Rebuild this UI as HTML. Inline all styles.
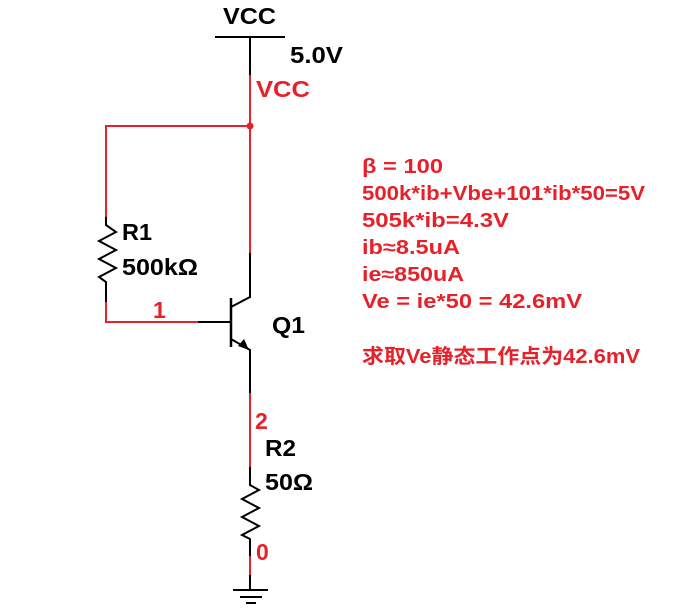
<!DOCTYPE html>
<html><head><meta charset="utf-8"><style>
html,body{margin:0;padding:0;background:#fff;}
svg{display:block}
text{font-family:"Liberation Sans","Noto Sans CJK SC",sans-serif;font-weight:bold;}
.r{fill:#e8202a;font-family:"Liberation Sans","Noto Sans CJK SC",sans-serif;font-size:20px;}
.b{font-size:23px;}
</style></head><body>
<svg width="698" height="610" viewBox="0 0 698 610" xmlns="http://www.w3.org/2000/svg">
<g fill="none" stroke-width="2" stroke-linejoin="miter">
<line x1="215" y1="37" x2="285" y2="37" stroke="#000"/>
<line x1="250" y1="37" x2="250" y2="75" stroke="#000"/>
<line x1="250" y1="75" x2="250" y2="253" stroke="#e8202a"/>
<line x1="250" y1="253" x2="250" y2="298" stroke="#000"/>
<polyline points="106,217 106,126 250,126" stroke="#e8202a"/>
<polyline points="106,217 106,225 116,232 99,241 116,250 99,259 116,268 99,277 106,282 106,302" stroke="#000"/>
<polyline points="106,302 106,322 198,322" stroke="#e8202a"/>
<line x1="198" y1="322" x2="231" y2="322" stroke="#000"/>
<line x1="231" y1="298" x2="231" y2="347" stroke="#000" stroke-width="2.5"/>
<line x1="231" y1="307" x2="250" y2="297" stroke="#000"/>
<line x1="231" y1="339" x2="250" y2="350" stroke="#000"/>
<line x1="250" y1="349" x2="250" y2="393" stroke="#000"/>
<line x1="250" y1="393" x2="250" y2="467" stroke="#e8202a"/>
<polyline points="250,467 250,485 259,490 242,499 259,508 242,517 259,526 242,535 250,539 250,556" stroke="#000"/>
<line x1="250" y1="556" x2="250" y2="575" stroke="#e8202a"/>
<line x1="250" y1="575" x2="250" y2="590" stroke="#000"/>
<line x1="233" y1="590" x2="268" y2="590" stroke="#000"/>
<line x1="240" y1="597" x2="262" y2="597" stroke="#000"/>
<line x1="246" y1="603" x2="256" y2="603" stroke="#000"/>
</g>
<polygon points="249,350 238,346 244,339" fill="#000"/>
<circle cx="250" cy="126" r="3.5" fill="#e8202a"/>
<text class="b" x="223" y="24" fill="#000" textLength="53" lengthAdjust="spacingAndGlyphs">VCC</text>
<text class="b" x="290" y="63" fill="#000" textLength="53" lengthAdjust="spacingAndGlyphs">5.0V</text>
<text class="b" x="256" y="97" fill="#e8202a" textLength="54" lengthAdjust="spacingAndGlyphs">VCC</text>
<text class="b" x="122" y="240" fill="#000" textLength="30" lengthAdjust="spacingAndGlyphs">R1</text>
<text class="b" x="122" y="275" fill="#000" textLength="76" lengthAdjust="spacingAndGlyphs">500kΩ</text>
<text class="b" x="153" y="318" fill="#e8202a">1</text>
<text class="b" x="272" y="333" fill="#000" textLength="33" lengthAdjust="spacingAndGlyphs">Q1</text>
<text class="b" x="255" y="429" fill="#e8202a">2</text>
<text class="b" x="265" y="456" fill="#000" textLength="31" lengthAdjust="spacingAndGlyphs">R2</text>
<text class="b" x="265" y="490" fill="#000" textLength="48" lengthAdjust="spacingAndGlyphs">50Ω</text>
<text class="b" x="256" y="560" fill="#e8202a">0</text>
<text class="r" x="362" y="173" textLength="81" lengthAdjust="spacingAndGlyphs">β = 100</text>
<text class="r" x="362" y="200" textLength="283" lengthAdjust="spacingAndGlyphs">500k*ib+Vbe+101*ib*50=5V</text>
<text class="r" x="362" y="227" textLength="147" lengthAdjust="spacingAndGlyphs">505k*ib=4.3V</text>
<text class="r" x="362" y="254" textLength="98" lengthAdjust="spacingAndGlyphs">ib≈8.5uA</text>
<text class="r" x="362" y="281" textLength="102" lengthAdjust="spacingAndGlyphs">ie≈850uA</text>
<text class="r" x="362" y="308" textLength="220" lengthAdjust="spacingAndGlyphs">Ve = ie*50 = 42.6mV</text>
<text class="r" x="362" y="363" textLength="278" lengthAdjust="spacingAndGlyphs">求取Ve静态工作点为42.6mV</text>
</svg>
</body></html>
